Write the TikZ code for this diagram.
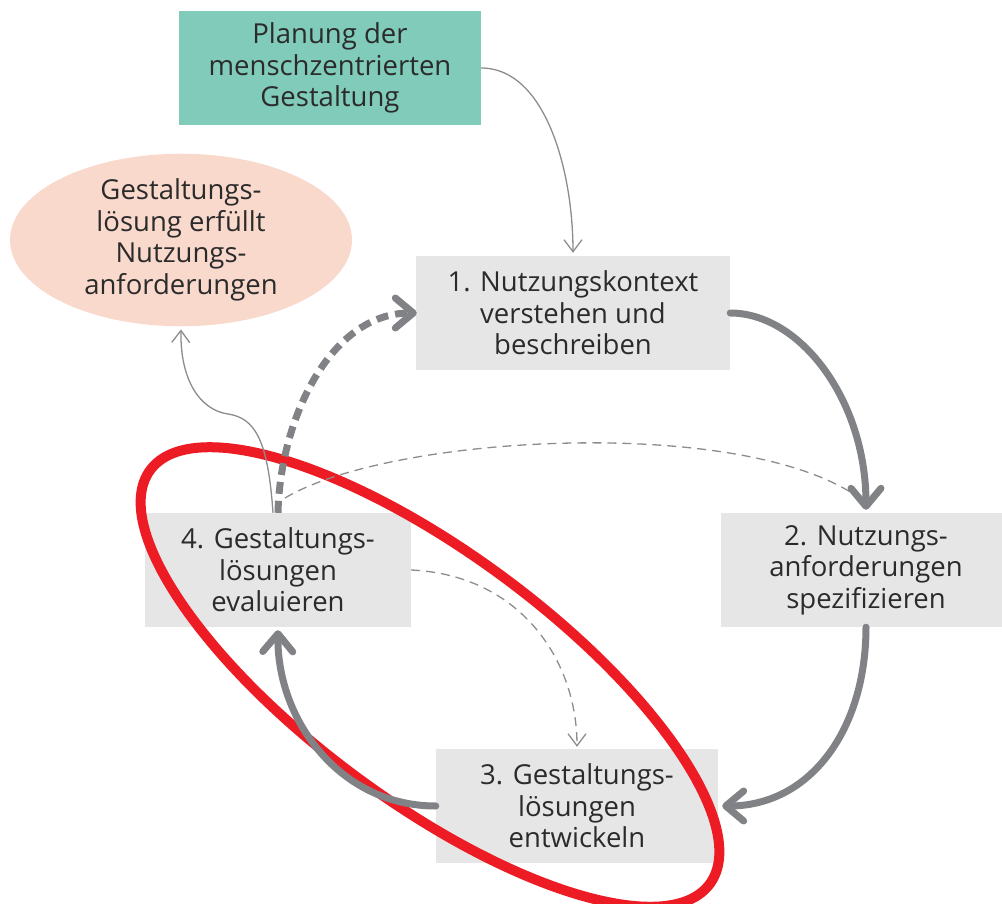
\documentclass[tikz,border=0pt]{standalone}
\usepackage{fontspec}
\setmainfont{Open Sans}
\usetikzlibrary{arrows.meta,shapes.geometric}

\definecolor{txt}{HTML}{2B2B2B}
\definecolor{boxgray}{HTML}{E6E6E6}
\definecolor{teal}{HTML}{80CBB9}
\definecolor{blush}{HTML}{FAD9CD}
\definecolor{flowgray}{HTML}{808285}
\definecolor{thingray}{HTML}{8C8C8C}
\definecolor{ringred}{HTML}{ED1C24}

\tikzset{
  label font/.style={font=\fontsize{27.5}{31.5}\selectfont, text=txt, align=center},
  stepbox/.style={label font, fill=boxgray, inner sep=0pt, minimum height=114pt},
  planbox/.style={label font, fill=teal, inner sep=0pt, minimum height=114pt},
  goal/.style={label font, ellipse, fill=blush, inner sep=0pt},
  mainflow/.style={draw=flowgray, line width=7pt, line cap=round,
    -{Straight Barb[length=18pt, width=30pt, round]}},
  retflow/.style={mainflow, dash pattern=on 12pt off 7pt, line cap=butt},
  thinflow/.style={draw=thingray, line width=1.3pt,
    -{Straight Barb[length=12pt, width=18pt]}},
  thindash/.style={thinflow, dash pattern=on 9pt off 6pt},
  ring/.style={draw=ringred, line width=10pt}
}

\begin{document}
\begin{tikzpicture}[x=1pt, y=-1pt]
  \clip (0,0) rectangle (1002,904);

  % process steps
  \node[planbox, minimum width=302pt] (plan) at (330,68)
    {Planung der\\menschzentrierten\\Gestaltung};
  \node[goal, minimum width=342pt, minimum height=156pt] (goal) at (181,240)
    {Gestaltungs-\\lösung erfüllt\\Nutzungs-\\anforderungen};
  \node[stepbox, minimum width=314pt] (s1) at (573,313)
    {1. Nutzungskontext\\verstehen und\\beschreiben};
  \node[stepbox, minimum width=290pt] (s2) at (866,570)
    {2. Nutzungs-\\anforderungen\\spezifizieren};
  \node[stepbox, minimum width=282pt] (s3) at (577,806)
    {3. Gestaltungs-\\lösungen\\entwickeln};
  \node[stepbox, minimum width=266pt] (s4) at (278,570)
    {4. Gestaltungs-\\lösungen\\evaluieren};

  % highlight around steps 3 and 4
  \draw[ring, rotate around={-36.5:(430,677)}] (430,677)
    ellipse [x radius=348pt, y radius=124pt];

  % auxiliary links
  \coordinate (s4top) at (285,498);
  \coordinate (s2in) at (858,497);
  \draw[thingray, line width=1.3pt, dash pattern=on 9pt off 6pt]
    (s4top) .. controls (390,435) and (740,415) .. (s2in);
  \draw[thindash] (s4.east) .. controls (520,575) and (577,660) .. ([yshift=2pt]s3.north);
  \draw[thinflow] (plan.east) .. controls (545,68) and (573,170) .. ([yshift=3pt]s1.north);
  \draw[thinflow] ([xshift=-5pt]s4.north) .. controls (268,440) and (255,418) .. (228,414)
    .. controls (200,410) and (180,380) .. ([yshift=-3pt]goal.south);

  % main cycle
  \draw[mainflow] (s1.east) .. controls (800,313) and (866,400) .. ([yshift=3pt]s2.north);
  \draw[mainflow] (s2.south) .. controls (866,730) and (810,806) .. ([xshift=4pt]s3.east);
  \draw[mainflow] (s3.west) .. controls (340,806) and (277,720) .. ([yshift=-3pt]s4.south);
  \draw[retflow] (s4.north) .. controls (280,420) and (330,313) .. ([xshift=1pt]s1.west);
\end{tikzpicture}
\end{document}
